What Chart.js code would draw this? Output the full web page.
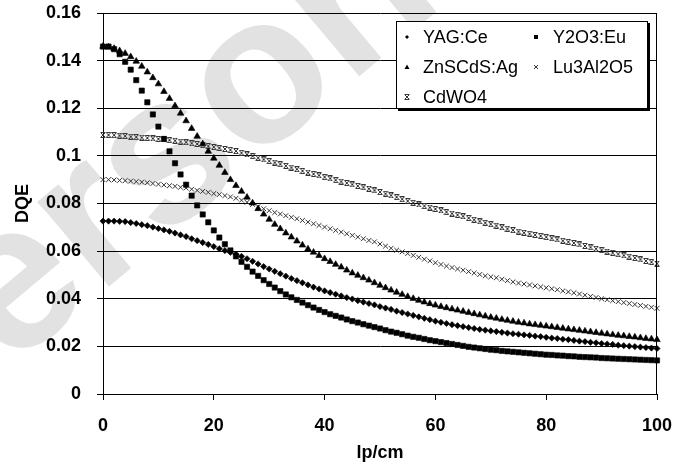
<!DOCTYPE html>
<html>
<head>
<meta charset="utf-8">
<script src="https://cdn.jsdelivr.net/npm/chart.js@4.4.1/dist/chart.umd.min.js"></script>
<style>
  html, body { margin: 0; padding: 0; background: #fff; }
</style>
</head>
<body>
<canvas id="mainGraph" width="684" height="464"></canvas>
<script>
var ctx = document.getElementById('mainGraph').getContext('2d');

// spatial frequency, lp/cm
const lpcm = [
  0, 1, 2, 3, 4, 5, 6, 7, 8, 9,
  10, 11, 12, 13, 14, 15, 16, 17, 18, 19,
  20, 21, 22, 23, 24, 25, 26, 27, 28, 29,
  30, 31, 32, 33, 34, 35, 36, 37, 38, 39,
  40, 41, 42, 43, 44, 45, 46, 47, 48, 49,
  50, 51, 52, 53, 54, 55, 56, 57, 58, 59,
  60, 61, 62, 63, 64, 65, 66, 67, 68, 69,
  70, 71, 72, 73, 74, 75, 76, 77, 78, 79,
  80, 81, 82, 83, 84, 85, 86, 87, 88, 89,
  90, 91, 92, 93, 94, 95, 96, 97, 98, 99,
  100
];

const yagCe = [
  0.0726, 0.0726, 0.0726, 0.0725, 0.0724, 0.0720, 0.0716, 0.0711, 0.0707, 0.0701,
  0.0695, 0.0689, 0.0683, 0.0676, 0.0668, 0.0661, 0.0652, 0.0644, 0.0636, 0.0628,
  0.0619, 0.0610, 0.0602, 0.0595, 0.0587, 0.0578, 0.0568, 0.0557, 0.0546, 0.0535,
  0.0525, 0.0515, 0.0505, 0.0495, 0.0485, 0.0476, 0.0467, 0.0458, 0.0449, 0.0441,
  0.0433, 0.0426, 0.0419, 0.0412, 0.0405, 0.0399, 0.0392, 0.0386, 0.0380, 0.0374,
  0.0367, 0.0361, 0.0355, 0.0348, 0.0342, 0.0336, 0.0330, 0.0324, 0.0318, 0.0312,
  0.0306, 0.0301, 0.0296, 0.0291, 0.0287, 0.0283, 0.0279, 0.0275, 0.0271, 0.0268,
  0.0265, 0.0262, 0.0259, 0.0256, 0.0253, 0.0251, 0.0248, 0.0246, 0.0243, 0.0241,
  0.0238, 0.0235, 0.0233, 0.0230, 0.0228, 0.0225, 0.0222, 0.0220, 0.0217, 0.0215,
  0.0212, 0.0210, 0.0208, 0.0205, 0.0203, 0.0201, 0.0199, 0.0197, 0.0195, 0.0193,
  0.0191
];

const y2o3Eu = [
  0.1459, 0.1459, 0.1448, 0.1427, 0.1395, 0.1362, 0.1318, 0.1274, 0.1225, 0.1174,
  0.1123, 0.1071, 0.1019, 0.0969, 0.0922, 0.0879, 0.0833, 0.0792, 0.0754, 0.0721,
  0.0687, 0.0657, 0.0629, 0.0603, 0.0578, 0.0555, 0.0534, 0.0514, 0.0496, 0.0478,
  0.0462, 0.0447, 0.0432, 0.0418, 0.0406, 0.0395, 0.0384, 0.0373, 0.0363, 0.0353,
  0.0344, 0.0335, 0.0328, 0.0321, 0.0313, 0.0306, 0.0300, 0.0293, 0.0287, 0.0281,
  0.0275, 0.0268, 0.0262, 0.0257, 0.0251, 0.0245, 0.0240, 0.0236, 0.0231, 0.0226,
  0.0222, 0.0218, 0.0214, 0.0210, 0.0206, 0.0202, 0.0198, 0.0195, 0.0192, 0.0189,
  0.0186, 0.0184, 0.0181, 0.0179, 0.0177, 0.0175, 0.0173, 0.0171, 0.0169, 0.0167,
  0.0165, 0.0164, 0.0162, 0.0161, 0.0159, 0.0158, 0.0156, 0.0155, 0.0154, 0.0153,
  0.0151, 0.0150, 0.0149, 0.0148, 0.0147, 0.0146, 0.0145, 0.0144, 0.0143, 0.0142,
  0.0141
];

const znscdsAg = [
  0.1460, 0.1457, 0.1451, 0.1441, 0.1430, 0.1416, 0.1397, 0.1376, 0.1352, 0.1328,
  0.1302, 0.1270, 0.1241, 0.1210, 0.1179, 0.1147, 0.1115, 0.1082, 0.1050, 0.1019,
  0.0990, 0.0960, 0.0930, 0.0900, 0.0875, 0.0851, 0.0826, 0.0802, 0.0778, 0.0755,
  0.0733, 0.0712, 0.0694, 0.0676, 0.0659, 0.0642, 0.0625, 0.0609, 0.0595, 0.0581,
  0.0568, 0.0556, 0.0544, 0.0533, 0.0520, 0.0508, 0.0498, 0.0488, 0.0478, 0.0467,
  0.0456, 0.0446, 0.0436, 0.0427, 0.0418, 0.0409, 0.0401, 0.0393, 0.0386, 0.0379,
  0.0373, 0.0367, 0.0362, 0.0357, 0.0352, 0.0347, 0.0342, 0.0337, 0.0332, 0.0327,
  0.0322, 0.0318, 0.0313, 0.0309, 0.0305, 0.0301, 0.0298, 0.0294, 0.0291, 0.0288,
  0.0285, 0.0282, 0.0279, 0.0276, 0.0273, 0.0270, 0.0267, 0.0264, 0.0261, 0.0258,
  0.0255, 0.0252, 0.0249, 0.0246, 0.0244, 0.0241, 0.0239, 0.0236, 0.0233, 0.0231,
  0.0228
];

const lu3al2o5 = [
  0.0900, 0.0900, 0.0899, 0.0897, 0.0896, 0.0894, 0.0892, 0.0890, 0.0887, 0.0884,
  0.0881, 0.0878, 0.0875, 0.0872, 0.0868, 0.0865, 0.0860, 0.0855, 0.0851, 0.0847,
  0.0842, 0.0838, 0.0833, 0.0828, 0.0822, 0.0814, 0.0805, 0.0796, 0.0787, 0.0778,
  0.0770, 0.0762, 0.0756, 0.0749, 0.0742, 0.0736, 0.0729, 0.0722, 0.0715, 0.0708,
  0.0701, 0.0694, 0.0687, 0.0680, 0.0673, 0.0666, 0.0659, 0.0652, 0.0645, 0.0639,
  0.0630, 0.0621, 0.0612, 0.0604, 0.0597, 0.0590, 0.0582, 0.0574, 0.0566, 0.0559,
  0.0551, 0.0544, 0.0537, 0.0531, 0.0525, 0.0520, 0.0514, 0.0508, 0.0502, 0.0496,
  0.0492, 0.0488, 0.0482, 0.0476, 0.0471, 0.0466, 0.0462, 0.0458, 0.0454, 0.0450,
  0.0446, 0.0442, 0.0438, 0.0433, 0.0429, 0.0425, 0.0420, 0.0415, 0.0410, 0.0405,
  0.0400, 0.0396, 0.0392, 0.0388, 0.0384, 0.0380, 0.0376, 0.0372, 0.0368, 0.0364,
  0.0360
];

const cdwo4 = [
  0.1088, 0.1088, 0.1087, 0.1085, 0.1083, 0.1081, 0.1079, 0.1077, 0.1075, 0.1073,
  0.1071, 0.1069, 0.1066, 0.1064, 0.1060, 0.1057, 0.1053, 0.1050, 0.1045, 0.1041,
  0.1037, 0.1033, 0.1029, 0.1025, 0.1020, 0.1013, 0.1006, 0.0999, 0.0992, 0.0985,
  0.0978, 0.0972, 0.0965, 0.0958, 0.0951, 0.0944, 0.0937, 0.0930, 0.0924, 0.0918,
  0.0911, 0.0905, 0.0898, 0.0892, 0.0886, 0.0880, 0.0874, 0.0868, 0.0862, 0.0855,
  0.0848, 0.0841, 0.0834, 0.0827, 0.0818, 0.0810, 0.0803, 0.0796, 0.0789, 0.0783,
  0.0777, 0.0771, 0.0764, 0.0758, 0.0752, 0.0746, 0.0739, 0.0732, 0.0725, 0.0719,
  0.0713, 0.0707, 0.0700, 0.0694, 0.0688, 0.0682, 0.0677, 0.0673, 0.0668, 0.0664,
  0.0659, 0.0654, 0.0649, 0.0644, 0.0639, 0.0634, 0.0628, 0.0622, 0.0616, 0.0610,
  0.0604, 0.0598, 0.0593, 0.0587, 0.0582, 0.0577, 0.0571, 0.0565, 0.0559, 0.0554,
  0.0548
];

const xTicks = [0, 20, 40, 60, 80, 100];
const yTicks = [0, 0.02, 0.04, 0.06, 0.08, 0.1, 0.12, 0.14, 0.16];

const FONT = "'Liberation Sans', Arial, sans-serif";

function toPoints(ys) {
  return lpcm.map((x, i) => ({x: x, y: ys[i]}));
}

// x with bars top and bottom (the "star" marker at small size)
const hourglass = (function () {
  const c = document.createElement('canvas');
  c.width = 6; c.height = 6;
  const g = c.getContext('2d');
  g.strokeStyle = '#333';
  g.lineWidth = 1;
  g.beginPath();
  g.moveTo(0.5, 0.5); g.lineTo(5.5, 0.5);
  g.moveTo(0.5, 5.5); g.lineTo(5.5, 5.5);
  g.moveTo(1, 1); g.lineTo(5, 5);
  g.moveTo(5, 1); g.lineTo(1, 5);
  g.stroke();
  return c;
})();

function legendMark(c, style, x, y) {
  c.fillStyle = '#000';
  c.strokeStyle = '#333';
  c.lineWidth = 1;
  c.beginPath();
  if (style === 'rectRot') {
    c.moveTo(x - 2, y); c.lineTo(x, y - 2); c.lineTo(x + 2, y); c.lineTo(x, y + 2);
    c.closePath(); c.fill();
  } else if (style === 'rect') {
    c.fillRect(x - 2, y - 2, 4, 4);
  } else if (style === 'triangle') {
    c.moveTo(x, y - 2.5); c.lineTo(x + 2.5, y + 2); c.lineTo(x - 2.5, y + 2);
    c.closePath(); c.fill();
  } else if (style === 'crossRot') {
    c.moveTo(x - 2, y - 2); c.lineTo(x + 2, y + 2);
    c.moveTo(x + 2, y - 2); c.lineTo(x - 2, y + 2);
    c.stroke();
  } else {
    c.drawImage(hourglass, Math.round(x) - 3, Math.round(y) - 3);
  }
}

const framePlugin = {
  id: 'frame',
  beforeDraw(chart) {
    // faint watermark behind everything
    const c = chart.ctx;
    c.save();
    c.translate(-99, 461);
    c.rotate(-40 * Math.PI / 180);
    c.font = 'bold 210px ' + FONT;
    c.fillStyle = '#e2e2e2';
    c.textBaseline = 'alphabetic';
    c.fillText('Personal', 0, 0);
    c.restore();
  },
  afterDraw(chart) {
    const c = chart.ctx;
    const a = chart.chartArea;
    c.save();
    c.strokeStyle = '#000';
    c.lineWidth = 1;
    c.beginPath();
    c.moveTo(Math.round(a.right) - 0.5, a.top);
    c.lineTo(Math.round(a.right) - 0.5, a.bottom);
    c.stroke();

    // legend box with shadow
    const L = 396, T = 21, W = 252, H = 88;
    c.fillStyle = '#000';
    c.fillRect(L + 2, T + 2, W, H);
    c.fillStyle = '#fff';
    c.fillRect(L, T, W, H);
    c.strokeStyle = '#000';
    c.strokeRect(L + 0.5, T + 0.5, W - 1, H - 1);

    const slots = [[407, 423, 37], [536, 553, 37], [407, 423, 67], [536, 553, 67], [407, 423, 97]];
    c.font = '18px ' + FONT;
    c.textBaseline = 'middle';
    chart.data.datasets.forEach((ds, i) => {
      const s = slots[i];
      legendMark(c, ds.legendStyle, s[0], s[2]);
      c.fillStyle = '#000';
      c.fillText(ds.label, s[1], s[2] + 1);
    });
    c.restore();
  }
};

const tickFont = {family: FONT, size: 18, weight: 'bold'};

function noEdgePadding(s) {
  s.paddingTop = 0; s.paddingBottom = 0;
  s.paddingLeft = 0; s.paddingRight = 0;
}

var chart = new Chart(ctx, {
  type: 'scatter',
  data: {
    datasets: [
      {
        label: 'YAG:Ce', data: toPoints(yagCe), legendStyle: 'rectRot',
        pointStyle: 'rectRot', pointRadius: 3.1, pointBorderWidth: 0.6,
        pointBackgroundColor: '#000', pointBorderColor: '#000'
      },
      {
        label: 'Y2O3:Eu', data: toPoints(y2o3Eu), legendStyle: 'rect',
        pointStyle: 'rect', pointRadius: 3.7, pointBorderWidth: 0.6,
        pointBackgroundColor: '#000', pointBorderColor: '#000'
      },
      {
        label: 'ZnSCdS:Ag', data: toPoints(znscdsAg), legendStyle: 'triangle',
        pointStyle: 'triangle', pointRadius: 3.8, pointBorderWidth: 0.6,
        pointBackgroundColor: '#000', pointBorderColor: '#000'
      },
      {
        label: 'Lu3Al2O5', data: toPoints(lu3al2o5), legendStyle: 'crossRot',
        pointStyle: 'crossRot', pointRadius: 3.4, pointBorderWidth: 1,
        pointBackgroundColor: '#333', pointBorderColor: '#333'
      },
      {
        label: 'CdWO4', data: toPoints(cdwo4), legendStyle: 'hourglass',
        pointStyle: hourglass, pointRadius: 3,
        pointBackgroundColor: '#333', pointBorderColor: '#333'
      }
    ]
  },
  options: {
    responsive: false,
    animation: false,
    devicePixelRatio: 1,
    clip: false,
    layout: {padding: {top: 13, right: 27, left: 0, bottom: 0}, autoPadding: false},
    plugins: {
      legend: {display: false},
      tooltip: {enabled: false}
    },
    scales: {
      x: {
        type: 'linear',
        min: 0,
        max: 100,
        afterBuildTicks: s => { s.ticks = xTicks.map(v => ({value: v})); },
        afterFit: s => { s.height = 70; noEdgePadding(s); },
        grid: {drawOnChartArea: false, drawTicks: true, tickLength: 6, color: '#000'},
        border: {color: '#000', width: 1},
        ticks: {font: tickFont, color: '#000', padding: 15, maxRotation: 0},
        title: {display: true, text: 'lp/cm', font: tickFont, color: '#000', padding: {top: 0, bottom: 0}}
      },
      y: {
        min: 0,
        max: 0.16,
        afterBuildTicks: s => { s.ticks = yTicks.map(v => ({value: v})); },
        afterFit: s => { s.width = 103; noEdgePadding(s); },
        grid: {color: '#000', drawTicks: true, tickLength: 6},
        border: {color: '#000', width: 1},
        ticks: {
          font: tickFont, color: '#000', padding: 16,
          callback: v => String(Number(v.toFixed(2)))
        },
        title: {display: true, text: 'DQE', font: tickFont, color: '#000', padding: {top: 12, bottom: 0}}
      }
    }
  },
  plugins: [framePlugin]
});
</script>
</body>
</html>
